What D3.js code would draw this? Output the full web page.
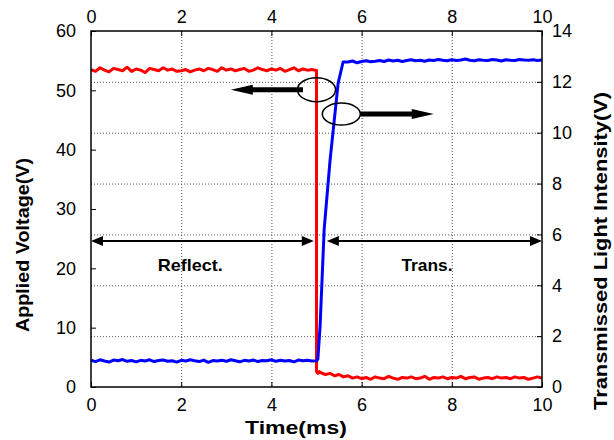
<!DOCTYPE html>
<html><head><meta charset="utf-8">
<script src="https://cdn.jsdelivr.net/npm/d3@7"></script>
<style>body{margin:0;background:#fff;} svg{display:block;font-family:"Liberation Sans",Arial,sans-serif;}</style>
</head><body>
<svg id="c" width="614" height="440"></svg>
<script>
// ---- data ----
const timeTicks = [0, 2, 4, 6, 8, 10];
const voltTicks = [0, 10, 20, 30, 40, 50, 60];
const lightTicks = [0, 2, 4, 6, 8, 10, 12, 14];
const flatStep = 0.1;
// red: applied voltage (left axis), t = 0 .. 4.9
const redHigh = [53.5,53.2,53.8,53.4,53.1,53.7,53.5,53.3,53.9,53.2,
  53.6,53.4,53.0,53.7,53.5,53.3,53.8,53.4,53.6,53.2,
  53.3,53.5,53.1,53.4,53.6,53.3,53.7,53.5,53.2,53.8,
  53.4,53.6,53.3,53.5,53.7,53.2,53.4,53.8,53.5,53.3,
  53.6,53.4,53.7,53.2,53.5,53.8,53.3,53.6,53.4,53.5];
const redStepTime = [4.97, 5.0, 5.0, 5.03, 5.06];
const redStepVolt = [53.4, 53.4, 2.6, 2.3, 2.6];
// red low, t = 5.1 .. 10.0
const redLow = [2.4,2.1,2.3,1.9,2.1,1.7,1.9,1.5,1.7,1.4,
  1.6,1.3,1.7,1.5,1.4,1.8,1.5,1.3,1.6,1.5,
  1.7,1.4,1.5,1.8,1.3,1.6,1.5,1.7,1.4,1.6,
  1.5,1.8,1.4,1.6,1.7,1.3,1.5,1.6,1.4,1.7,
  1.5,1.6,1.4,1.7,1.5,1.6,1.3,1.5,1.7,1.5];
// blue: transmitted light intensity (right axis), t = 0 .. 4.9
const blueLow = [1.05,1.00,1.07,1.02,0.98,1.06,1.03,1.08,1.01,1.04,
  0.99,1.05,1.02,1.07,1.00,1.04,1.06,1.01,1.03,0.98,
  1.05,1.02,1.07,1.03,1.00,1.06,0.97,1.04,1.02,1.05,
  1.01,1.07,1.03,0.99,1.05,1.02,1.06,1.00,1.04,1.03,
  1.07,1.01,1.05,1.02,1.04,0.99,1.06,1.03,1.05,1.02];
const blueStepTime = [5.0, 5.03, 5.08, 5.17, 5.30, 5.48, 5.59];
const blueStepLight = [1.03, 1.10, 2.40, 6.20, 8.90, 11.95, 12.78];
// blue high, t = 5.7 .. 10.0
const blueHigh = [12.78,12.82,12.75,12.80,12.83,12.79,12.81,12.84,12.80,12.86,
  12.82,12.85,12.80,12.84,12.87,12.83,12.85,12.81,12.86,12.84,
  12.88,12.85,12.83,12.87,12.84,12.86,12.90,12.85,12.83,12.87,
  12.85,12.84,12.88,12.86,12.82,12.87,12.85,12.84,12.88,12.86,
  12.85,12.87,12.84,12.86];

// ---- layout ----
const L = 91, R = 542, T = 31, B = 387;
const svg = d3.select("#c");
const x = d3.scaleLinear().domain([0, 10]).range([L, R]);
const yV = d3.scaleLinear().domain([0, 60]).range([B, T]);
const yL = d3.scaleLinear().domain([0, 14]).range([B, T]);

// grid
const g = svg.append("g").attr("stroke", "#555").attr("stroke-width", 1).attr("stroke-dasharray", "1,2");
lightTicks.filter(v => v > 0 && v < 14).forEach(v => {
  g.append("line").attr("x1", L).attr("x2", R).attr("y1", yL(v) + 0.5).attr("y2", yL(v) + 0.5);
});
timeTicks.filter(v => v > 0 && v < 10).forEach(v => {
  g.append("line").attr("y1", T).attr("y2", B).attr("x1", x(v) + 0.5).attr("x2", x(v) + 0.5);
});

// axes
function styleAxis(sel) {
  sel.select(".domain").remove();
  sel.selectAll("text").attr("font-size", 18).attr("fill", "#000");
  sel.selectAll("line").attr("stroke", "#000");
}
svg.append("g").attr("transform", `translate(${L},0)`)
  .call(d3.axisLeft(yV).tickValues(voltTicks).tickSizeInner(-5).tickSizeOuter(0).tickPadding(15))
  .call(styleAxis);
svg.append("g").attr("transform", `translate(${R},0)`)
  .call(d3.axisRight(yL).tickValues(lightTicks).tickSizeInner(-5).tickSizeOuter(0).tickPadding(10))
  .call(styleAxis);
svg.append("g").attr("transform", `translate(0,${B})`)
  .call(d3.axisBottom(x).tickValues(timeTicks).tickSizeInner(-5).tickSizeOuter(0).tickPadding(11))
  .call(styleAxis);
svg.append("g").attr("transform", `translate(0,${T})`)
  .call(d3.axisTop(x).tickValues(timeTicks).tickSizeInner(-5).tickSizeOuter(0).tickPadding(8))
  .call(styleAxis);

// series
const redPts = redHigh.map((v, i) => [i * flatStep, v])
  .concat(redStepTime.map((t, i) => [t, redStepVolt[i]]))
  .concat(redLow.map((v, i) => [5.1 + i * flatStep, v]));
const bluePts = blueLow.map((v, i) => [i * flatStep, v])
  .concat(blueStepTime.map((t, i) => [t, blueStepLight[i]]))
  .concat(blueHigh.map((v, i) => [5.7 + i * flatStep, v]));

svg.append("path").datum(redPts)
  .attr("d", d3.line().x(d => x(d[0])).y(d => yV(d[1])))
  .attr("fill", "none").attr("stroke", "#ff0000").attr("stroke-width", 3).attr("stroke-linejoin", "round");
svg.append("path").datum(bluePts)
  .attr("d", d3.line().x(d => x(d[0])).y(d => yL(d[1])))
  .attr("fill", "none").attr("stroke", "#0000ff").attr("stroke-width", 3).attr("stroke-linejoin", "round");

// frame
svg.append("rect").attr("x", L).attr("y", T).attr("width", R - L).attr("height", B - T)
  .attr("fill", "none").attr("stroke", "#000").attr("stroke-width", 1.5);

// annotations: ellipses + thick arrows
const ann = svg.append("g");
ann.append("ellipse").attr("cx", x(5.0)).attr("cy", yV(50.1)).attr("rx", 19).attr("ry", 12)
  .attr("fill", "none").attr("stroke", "#000").attr("stroke-width", 1.5);
ann.append("ellipse").attr("cx", x(5.55)).attr("cy", yV(46.0)).attr("rx", 19).attr("ry", 11)
  .attr("fill", "none").attr("stroke", "#000").attr("stroke-width", 1.5);
function thickArrow(x0, x1, y) {
  const dir = Math.sign(x1 - x0);
  const hx = x1 - dir * 22;
  ann.append("path")
    .attr("d", `M${x0},${y - 2.5}L${hx},${y - 2.5}L${hx},${y - 5}L${x1},${y}L${hx},${y + 5}L${hx},${y + 2.5}L${x0},${y + 2.5}Z`)
    .attr("fill", "#000");
}
thickArrow(x(4.7), x(3.1), yV(50.1));
thickArrow(x(5.97), x(7.6), yV(46.0));

// double-headed range arrows
function rangeArrow(x0, x1, y) {
  ann.append("line").attr("x1", x0 + 4).attr("x2", x1 - 4).attr("y1", y).attr("y2", y)
    .attr("stroke", "#000").attr("stroke-width", 2);
  ann.append("path").attr("d", `M${x0},${y}L${x0 + 12},${y - 5}L${x0 + 12},${y + 5}Z`).attr("fill", "#000");
  ann.append("path").attr("d", `M${x1},${y}L${x1 - 12},${y - 5}L${x1 - 12},${y + 5}Z`).attr("fill", "#000");
}
rangeArrow(x(0), x(4.94), yV(24.6));
rangeArrow(x(5.23), x(10), yV(24.6));
ann.append("text").attr("x", x(2.2)).attr("y", 271).attr("text-anchor", "middle")
  .attr("font-size", 17).attr("font-weight", "bold")
  .attr("textLength", 65).attr("lengthAdjust", "spacingAndGlyphs").text("Reflect.");
ann.append("text").attr("x", x(7.45)).attr("y", 271).attr("text-anchor", "middle")
  .attr("font-size", 17).attr("font-weight", "bold")
  .attr("textLength", 51).attr("lengthAdjust", "spacingAndGlyphs").text("Trans.");

// axis titles
svg.append("text").attr("transform", "translate(29,245) rotate(-90)").attr("text-anchor", "middle")
  .attr("font-size", 18).attr("font-weight", "bold")
  .attr("textLength", 174).attr("lengthAdjust", "spacingAndGlyphs").text("Applied Voltage(V)");
svg.append("text").attr("transform", "translate(607,251) rotate(-90)").attr("text-anchor", "middle")
  .attr("font-size", 18).attr("font-weight", "bold")
  .attr("textLength", 318).attr("lengthAdjust", "spacingAndGlyphs").text("Transmissed Light Intensity(V)");
svg.append("text").attr("x", 296).attr("y", 434).attr("text-anchor", "middle")
  .attr("font-size", 18).attr("font-weight", "bold")
  .attr("textLength", 102).attr("lengthAdjust", "spacingAndGlyphs").text("Time(ms)");
</script>
</body></html>
